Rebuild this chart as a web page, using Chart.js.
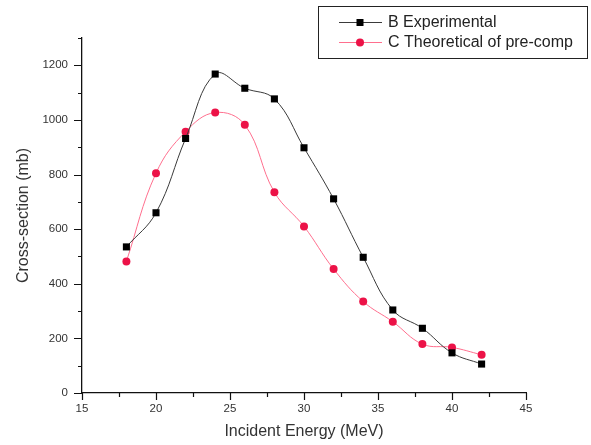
<!DOCTYPE html>
<html>
<head>
<meta charset="utf-8">
<script src="https://cdn.jsdelivr.net/npm/chart.js@4/dist/chart.umd.min.js"></script>
<style>
html,body{margin:0;padding:0;background:#fff;}
#wrap{width:591px;height:445px;position:relative;}
</style>
</head>
<body>
<div id="wrap"><canvas id="c" width="591" height="445"></canvas></div>
<script>
const energies = [18, 20, 22, 24, 26, 28, 30, 32, 34, 36, 38, 40, 42];
const experimental = [535, 660, 932, 1168, 1116, 1077, 898, 711, 497, 304, 237, 147, 106];
const theoretical = [482, 805, 957, 1027, 982, 735, 610, 454, 335, 261, 179, 167, 140];
const seriesLabels = ['B Experimental', 'C Theoretical of pre-comp'];
const xTitle = 'Incident Energy (MeV)';
const yTitle = 'Cross-section (mb)';

const FONT = 'Liberation Sans, Arial, sans-serif';

const legendBox = {
  id: 'legendBox',
  afterDraw(chart) {
    const ctx = chart.ctx;
    ctx.save();
    ctx.strokeStyle = '#222';
    ctx.lineWidth = 1;
    ctx.strokeRect(318.5, 6.5, 269, 52);
    chart.data.datasets.forEach((ds, i) => {
      const y = 22 + i * 20;
      ctx.strokeStyle = ds.borderColor;
      ctx.lineWidth = 1;
      ctx.beginPath(); ctx.moveTo(339, y + 0.5); ctx.lineTo(382, y + 0.5); ctx.stroke();
      ctx.fillStyle = ds.pointBackgroundColor;
      if (ds.pointStyle === 'rect') {
        ctx.fillRect(356.5, y - 3, 7, 7);
      } else {
        ctx.beginPath(); ctx.arc(360, y + 0.5, 4, 0, Math.PI * 2); ctx.fill();
      }
      ctx.fillStyle = '#222';
      ctx.font = '16px ' + FONT;
      ctx.textBaseline = 'middle';
      ctx.fillText(ds.label, 388, y + 1);
    });
    ctx.restore();
  }
};

const tickMarks = {
  id: 'tickMarks',
  afterDraw(chart) {
    const ctx = chart.ctx;
    const xs = chart.scales.x, ys = chart.scales.y;
    ctx.save();
    ctx.strokeStyle = '#111';
    ctx.lineWidth = 1.2;
    ctx.beginPath();
    xs.ticks.forEach(t => {
      const px = Math.round(xs.getPixelForValue(t.value)) + 0.5;
      const len = (t.value % 5 === 0) ? 7 : 4;
      ctx.moveTo(px, xs.top); ctx.lineTo(px, xs.top + len);
    });
    ys.ticks.forEach(t => {
      const py = Math.round(ys.getPixelForValue(t.value)) + 0.5;
      const len = (t.value % 200 === 0) ? 8 : 4;
      ctx.moveTo(ys.right, py); ctx.lineTo(ys.right - len, py);
    });
    ctx.stroke();
    ctx.restore();
  }
};

new Chart(document.getElementById('c'), {
  type: 'line',
  data: {
    datasets: [
      {
        label: seriesLabels[0],
        data: energies.map((x, i) => ({x, y: experimental[i]})),
        borderColor: '#3a3a3a',
        borderWidth: 1,
        pointStyle: 'rect',
        pointRadius: 5,
        pointBackgroundColor: '#000000',
        pointBorderColor: '#000000',
        pointBorderWidth: 0,
        tension: 0.4
      },
      {
        label: seriesLabels[1],
        data: energies.map((x, i) => ({x, y: theoretical[i]})),
        borderColor: '#ff6f8e',
        borderWidth: 1,
        pointStyle: 'circle',
        pointRadius: 4,
        pointBackgroundColor: '#ec1247',
        pointBorderColor: '#ec1247',
        pointBorderWidth: 0,
        tension: 0.4
      }
    ]
  },
  options: {
    responsive: false,
    animation: false,
    layout: {padding: {left: 12, top: 38, right: 65, bottom: 2}},
    plugins: {legend: {display: false}, tooltip: {enabled: false}},
    scales: {
      x: {
        type: 'linear', min: 15, max: 45,
        border: {display: true, color: '#111', width: 1.3},
        grid: {display: true, drawOnChartArea: false, drawTicks: true, tickLength: 7, tickColor: 'rgba(0,0,0,0)'},
        ticks: {
          stepSize: 2.5, autoSkip: false, maxRotation: 0,
          color: '#333', font: {family: FONT, size: 11.5}, padding: 2,
          callback: v => (v % 5 === 0 ? String(v) : '')
        },
        title: {display: true, text: xTitle, color: '#333', font: {family: FONT, size: 16}, padding: {top: 4, bottom: 2}},
        afterFit: s => { s.height = 50; }
      },
      y: {
        type: 'linear', min: 0, max: 1300,
        border: {display: true, color: '#111', width: 1.3},
        grid: {display: true, drawOnChartArea: false, drawTicks: true, tickLength: 8, tickColor: 'rgba(0,0,0,0)'},
        ticks: {
          stepSize: 100, autoSkip: false,
          color: '#333', font: {family: FONT, size: 11.5}, padding: 6,
          callback: v => (v % 200 === 0 && v <= 1200 ? String(v) : '')
        },
        title: {display: true, text: yTitle, color: '#333', font: {family: FONT, size: 16}, padding: {top: 2, bottom: 6}},
        afterFit: s => { s.width = 70; }
      }
    }
  },
  plugins: [legendBox, tickMarks]
});
</script>
</body>
</html>
